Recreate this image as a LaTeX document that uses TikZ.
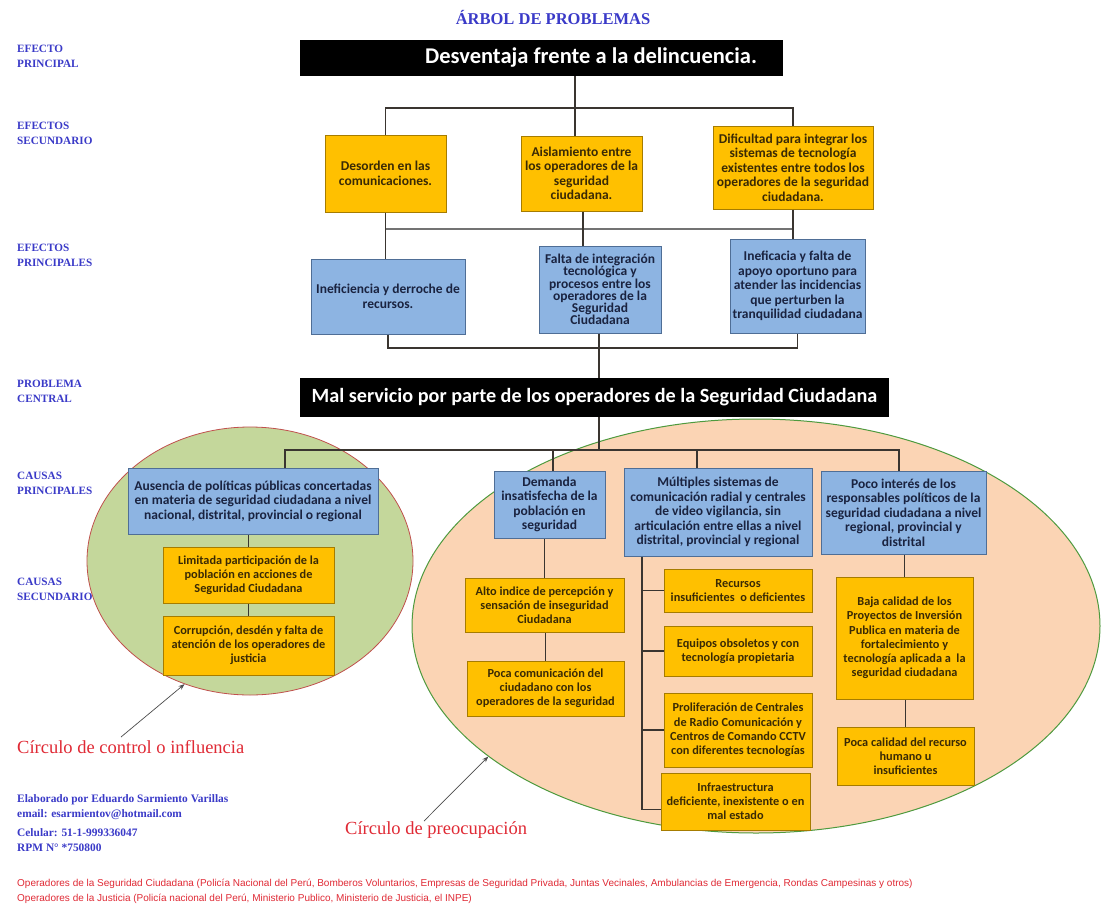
\documentclass[tikz,border=0pt]{standalone}
\usepackage{fontspec}
\setmainfont{Liberation Serif}
\newfontfamily\boxfont{Carlito}
\newfontfamily\arialfont{Liberation Sans}
\usetikzlibrary{calc,arrows.meta,shapes.geometric}
\definecolor{yfill}{HTML}{FFC000}
\definecolor{yline}{HTML}{A67C00}
\definecolor{ytext}{HTML}{3A2A05}
\definecolor{bfill}{HTML}{8DB4E2}
\definecolor{bline}{HTML}{4F6E96}
\definecolor{btext}{HTML}{1A2340}
\definecolor{greenfill}{HTML}{C4D79B}
\definecolor{greenline}{HTML}{C0504D}
\definecolor{peachfill}{HTML}{FBD4B4}
\definecolor{peachline}{HTML}{4E9A3E}
\definecolor{lblblue}{HTML}{3A3AC8}
\definecolor{redtxt}{HTML}{E02A35}
\definecolor{connc}{HTML}{3A3530}
\tikzset{
  conn/.style={draw=connc, line width=1.7pt},
  connlight/.style={draw=black!55, line width=1.4pt},
  ybx/.style={draw=yline, fill=yfill, line width=1pt, align=center, text=ytext,
    font=\boxfont\bfseries\fontsize{13.5}{14.5}\selectfont, inner sep=1pt},
  ysmall/.style={ybx, font=\boxfont\bfseries\fontsize{12.3}{14.2}\selectfont},
  bbx/.style={draw=bline, fill=bfill, line width=1pt, align=center, text=btext,
    font=\boxfont\bfseries\fontsize{13.5}{14.5}\selectfont, inner sep=1pt},
  blackbx/.style={fill=black, text=white, inner sep=0pt},
  lbl/.style={anchor=west, align=left, text=lblblue, inner sep=0pt,
    font=\bfseries\fontsize{11.2}{15}\selectfont},
  credit/.style={anchor=west, text=lblblue, inner sep=0pt,
    font=\bfseries\fontsize{11.4}{12}\selectfont},
  redlbl/.style={anchor=west, text=redtxt, inner sep=0pt,
    font=\fontsize{18.5}{20}\selectfont},
  foot/.style={anchor=west, text=redtxt, inner sep=0pt,
    font=\arialfont\fontsize{10}{11}\selectfont},
  pointer/.style={draw=black!70, line width=0.7pt, -{Stealth[length=6pt,width=4.5pt]}}
}
\begin{document}
\begin{tikzpicture}[x=1pt,y=-1pt]
\fill[white] (0,0) rectangle (1106,916);
\useasboundingbox (0,0) rectangle (1106,916);

% title
\node[text=lblblue, font=\bfseries\fontsize{16.5}{18}\selectfont, inner sep=0pt] (title) at (553,18) {ÁRBOL DE PROBLEMAS};

% level labels
\node[lbl] (lab1) at (17,56.5) {EFECTO\\PRINCIPAL};
\node[lbl] (lab2) at (17,133.5) {EFECTOS\\SECUNDARIO};
\node[lbl] (lab3) at (17,255.5) {EFECTOS\\PRINCIPALES};
\node[lbl] (lab4) at (17,391.5) {PROBLEMA\\CENTRAL};
\node[lbl] (lab5) at (17,483.5) {CAUSAS\\PRINCIPALES};
\node[lbl] (lab6) at (17,589.5) {CAUSAS\\SECUNDARIO};

% circles
\node[ellipse, draw=greenline, fill=greenfill, line width=0.8pt, minimum width=326pt, minimum height=268pt, inner sep=0pt] (gc) at (250,561) {};
\node[ellipse, draw=peachline, fill=peachfill, line width=1pt, minimum width=688pt, minimum height=414pt, inner sep=0pt] (oc) at (756,626) {};

% boxes
\node[blackbx, minimum width=483pt, minimum height=36pt,
  font=\boxfont\bfseries\fontsize{22.5}{24}\selectfont] (top) at (541.5,58) {\makebox[431pt][r]{Desventaja frente a la delincuencia.}};

\node[ybx, minimum width=121pt, minimum height=77pt] (y1) at (385.5,173.5) {Desorden en las\\comunicaciones.};
\node[ybx, minimum width=121pt, minimum height=75pt] (y2) at (581.5,173.5) {Aislamiento entre\\los operadores de la\\seguridad\\ciudadana.};
\node[ybx, minimum width=160pt, minimum height=83pt] (y3) at (793,167.5) {Dificultad para integrar los\\sistemas de tecnología\\existentes entre todos los\\operadores de la seguridad\\ciudadana.};

\node[bbx, minimum width=154pt, minimum height=75pt] (b1) at (388,296.5) {Ineficiencia y derroche de\\recursos.};
\node[bbx, minimum width=122pt, minimum height=87pt, font=\boxfont\bfseries\fontsize{13.5}{12.3}\selectfont] (b2) at (600,289.5) {Falta de integración\\tecnológica y\\procesos entre los\\operadores de la\\Seguridad\\Ciudadana};
\node[bbx, minimum width=135pt, minimum height=94pt] (b3) at (797.5,286) {Ineficacia y falta de\\apoyo oportuno para\\atender las incidencias\\que perturben la\\tranquilidad ciudadana};

\node[blackbx, minimum width=589pt, minimum height=39pt,
  font=\boxfont\bfseries\fontsize{20.2}{22}\selectfont] (central) at (594.5,397.5) {Mal servicio por parte de los operadores de la Seguridad Ciudadana};

\node[bbx, minimum width=250pt, minimum height=66pt] (a) at (253,501) {Ausencia de políticas públicas concertadas\\en materia de seguridad ciudadana a nivel\\nacional, distrital, provincial o regional};
\node[bbx, minimum width=111pt, minimum height=67pt] (d) at (549.5,504.5) {Demanda\\insatisfecha de la\\población en\\seguridad};
\node[bbx, minimum width=188pt, minimum height=88pt] (m) at (718,512) {Múltiples sistemas de\\comunicación radial y centrales\\de video vigilancia, sin\\articulación entre ellas a nivel\\distrital, provincial y regional};
\node[bbx, minimum width=165pt, minimum height=83pt] (p) at (903.5,512.5) {Poco interés de los\\responsables políticos de la\\seguridad ciudadana a nivel\\regional, provincial y\\distrital};

\node[ysmall, minimum width=171pt, minimum height=56pt] (l1) at (248.5,575) {Limitada participación de la\\población en acciones de\\Seguridad Ciudadana};
\node[ysmall, minimum width=171pt, minimum height=59pt] (l2) at (248.5,645.5) {Corrupción, desdén y falta de\\atención de los operadores de\\justicia};

\node[ysmall, minimum width=159pt, minimum height=54pt] (d1) at (544.5,605) {Alto indice de percepción y\\sensación de inseguridad\\Ciudadana};
\node[ysmall, minimum width=157pt, minimum height=55pt] (d2) at (545.5,688.5) {Poca comunicación del\\ciudadano con los\\operadores de la seguridad};

\node[ysmall, minimum width=148pt, minimum height=43pt] (m1) at (738,590.5) {Recursos\\insuficientes\ \ o deficientes};
\node[ysmall, minimum width=148pt, minimum height=50pt] (m2) at (738,651) {Equipos obsoletos y con\\tecnología propietaria};
\node[ysmall, minimum width=148pt, minimum height=74pt] (m3) at (738,730) {Proliferación de Centrales\\de Radio Comunicación y\\Centros de Comando CCTV\\con diferentes tecnologías};
\node[ysmall, minimum width=149pt, minimum height=57pt] (m4) at (735.5,801.5) {Infraestructura\\deficiente, inexistente o en\\mal estado};

\node[ysmall, minimum width=137pt, minimum height=122pt] (p1) at (904.5,638) {Baja calidad de los\\Proyectos de Inversión\\Publica en materia de\\fortalecimiento y\\tecnología aplicada a\ \ la\\seguridad ciudadana};
\node[ysmall, minimum width=137pt, minimum height=58pt] (p2) at (905.5,756) {Poca calidad del recurso\\humano u\\insuficientes};

% connectors upper
\coordinate (j1) at (575,108);
\draw[conn] (j1 |- top.south) -- (j1 |- y2.north);
\draw[conn] (y1.north) |- (j1) -| (y3.north);
\coordinate (j2) at (583,229);
\draw[connlight] (y1.south |- j2) -- (y3.south |- j2);
\draw[conn] (y1.south) -- (y1.south |- b1.north);
\draw[conn] (j2 |- y2.south) -- (j2 |- b2.north);
\draw[conn] (y3.south) -- (y3.south |- b3.north);
\coordinate (j3) at (599,348);
\draw[conn] (b1.south) |- (j3) -| (b3.south);
\draw[conn] (j3 |- b2.south) -- (j3 |- central.north);

% connectors lower
\coordinate (j4) at (599,450);
\coordinate (ja) at (285,450);
\coordinate (jd) at (553,450);
\coordinate (jm) at (697,450);
\coordinate (jp) at (899,450);
\draw[conn] (j4 |- central.south) -- (j4);
\draw[conn] (ja |- a.north) -- (ja) -- (jp) -- (jp |- p.north);
\draw[conn] (jd) -- (jd |- d.north);
\draw[conn] (jm) -- (jm |- m.north);
\draw[conn] (l1.north) -- (l1.north |- a.south);
\draw[conn] (l2.north) -- (l2.north |- l1.south);
\draw[conn] (d1.north) -- (d1.north |- d.south);
\draw[conn] (d2.north) -- (d2.north |- d1.south);
\coordinate (mv) at (642,809.5);
\draw[conn] (mv |- m.south) -- (mv) -- (mv -| m4.west);
\draw[conn] (mv |- m1.west) -- (m1.west);
\draw[conn] (mv |- m2.west) -- (m2.west);
\draw[conn] (mv |- m3.west) -- (m3.west);
\draw[conn] (p1.north) -- (p1.north |- p.south);
\draw[conn] (p2.north) -- (p2.north |- p1.south);

% circle labels and pointers
\node[redlbl] (t1) at (17,747) {Círculo de control o influencia};
\node[redlbl] (t2) at (345,830) {Círculo de preocupación};
\coordinate (a1s) at (121,737);
\coordinate (a2s) at (424,821);
\draw[pointer] (a1s) -- (gc.-118.5);
\draw[pointer] (a2s) -- (oc.-154.7);

% credits
\node[credit] (c1) at (17,800) {Elaborado por Eduardo Sarmiento Varillas};
\node[credit] (c2) at (17,815) {email: esarmientov@hotmail.com};
\node[credit] (c3) at (17,833) {Celular: 51-1-999336047};
\node[credit] (c4) at (17,848) {RPM N° *750800};

% footnotes
\node[foot] (f1) at (17,884) {Operadores de la Seguridad Ciudadana (Policía Nacional del Perú, Bomberos Voluntarios, Empresas de Seguridad Privada, Juntas Vecinales, Ambulancias de Emergencia, Rondas Campesinas y otros)};
\node[foot] (f2) at (17,899) {Operadores de la Justicia (Policía nacional del Perú, Ministerio Publico, Ministerio de Justicia, el INPE)};
\end{tikzpicture}
\end{document}
